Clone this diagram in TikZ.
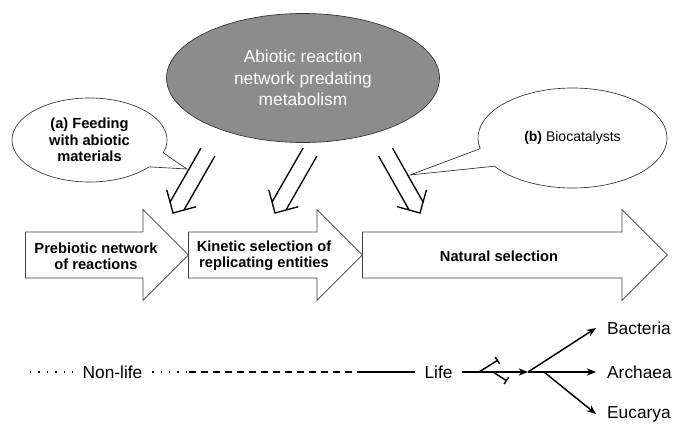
\documentclass[tikz,border=0pt]{standalone}
\usepackage{fontspec}
\setmainfont{Liberation Sans}
\usetikzlibrary{shapes.arrows,shapes.callouts,shapes.geometric,calc,arrows.meta}

\definecolor{abioticgray}{RGB}{140,140,140}

\tikzset{every picture/.style={line width=0.75pt}}
\tikzset{
  stage/.style={single arrow, draw=black!75, line width=0.6pt, single arrow head extend=16.9pt,
    single arrow tip angle=90, inner xsep=0pt, inner ysep=16.9pt, anchor=tail},
  stagetext/.style={font=\fontsize{11}{12.3}\selectfont\bfseries, align=center, inner sep=0.75pt},
  bubble/.style={ellipse callout, draw=black!80, line width=0.5pt, fill=white, align=center,
    inner sep=0pt, callout pointer arc=22},
  feed/.style={draw=black, line width=1pt},
  era/.style={font=\fontsize{13}{15}\selectfont, inner xsep=7pt, inner ysep=1pt},
  leaf/.style={font=\fontsize{13}{15}\selectfont, inner xsep=8pt, inner ysep=1pt, anchor=west},
  lifeline/.style={line width=1.1pt},
  branch/.style={line width=1.1pt, -{Stealth[length=7pt,width=5.5pt]}},
  stub/.style={line width=1.1pt, -{Bar[width=6pt]}}
}

% double-lined open arrow from #1 (tail middle) to #2 (tip)
\newcommand{\feedarrow}[2]{%
  \draw[feed] ($(#1)!6pt!90:(#2)$) -- ($(#2)!8.5pt!-45:(#1)$)
              ($(#1)!6pt!-90:(#2)$) -- ($(#2)!8.5pt!45:(#1)$)
              ($(#2)!18pt!45:(#1)$) -- (#2) -- ($(#2)!18pt!-45:(#1)$);}

\begin{document}
\begin{tikzpicture}[x=0.75pt,y=0.75pt,yscale=-1,xscale=1]
  \useasboundingbox (0,0) rectangle (680,428);

  %Shape: Ellipse [abiotic network]
  \node[ellipse, draw=black!80, line width=0.5pt, fill=abioticgray, text=white, minimum width=204.75pt,
    minimum height=96.75pt, align=center, font=\fontsize{13}{16}\selectfont] (abiotic) at (303,78)
    {Abiotic reaction\\network predating\\metabolism};

  % tails and tips of the feeding arrows
  \coordinate (s1) at (208,152);   \coordinate (t1) at (173,213);
  \coordinate (s2) at (310,152);   \coordinate (t2) at (275,213);
  \coordinate (s3) at (385.5,152); \coordinate (t3) at (420,213);
  \coordinate (pa) at (187,169);
  \coordinate (pb) at (410,175);

  %Shape: Callouts
  \node[bubble, minimum width=116.25pt, minimum height=63pt, callout absolute pointer=(pa),
    font=\fontsize{11}{12.3}\selectfont\bfseries] (feeding) at (89.5,140)
    {(a) Feeding\\with abiotic\\materials};
  \node[bubble, minimum width=141.75pt, minimum height=75pt, callout absolute pointer=(pb),
    font=\fontsize{10.5}{12}\selectfont] (catalysts) at (572.5,138)
    {\textbf{(b)} Biocatalysts};

  \feedarrow{s1}{t1}
  \feedarrow{s2}{t2}
  \feedarrow{s3}{t3}

  %Shape: Stage arrows
  \node[stage, minimum height=122.25pt] (prebiotic) at (25,255) {};
  \node[stage, minimum height=130.5pt] (kinetic) at (188,255) {};
  \node[stage, minimum height=228.75pt] (natural) at (362,255) {};

  \node[stagetext] (prebioticlabel) at (96,256) {Prebiotic network\\of reactions};
  \node[stagetext] (kineticlabel) at (264,256) {Kinetic selection of\\replicating entities};
  \node[stagetext] (naturallabel) at (499,256) {Natural selection};

  % timeline
  \coordinate (start) at (30,372);
  \node[era] (nonlife) at (112.5,372) {Non-life};
  \coordinate (d1) at (189,372);
  \coordinate (d2) at (361,372);
  \node[era] (life) at (438.5,372) {Life};
  \coordinate (fork) at (528,372);
  \coordinate (split) at (544,372);
  \coordinate (b1) at (479,372);
  \coordinate (b2) at (493,372);
  \node[leaf] (bacteria) at (596,328) {Bacteria};
  \node[leaf] (archaea) at (596,372) {Archaea};
  \node[leaf] (eucarya) at (596,414) {Eucarya};

  \draw[line width=1pt, dash pattern=on 1pt off 5.3pt] (start) -- (nonlife.west);
  \draw[line width=1pt, dash pattern=on 1pt off 5.3pt] (nonlife.east) -- (d1);
  \draw[lifeline, dash pattern=on 5.25pt off 3.75pt] (d1) -- (d2);
  \draw[lifeline] (d2) -- (life.west);
  \draw[branch] (life.east) -- (fork);
  \draw[stub] (b1) -- (498,360);
  \draw[stub] (b2) -- (507,381);
  \draw[branch] (fork) -- (bacteria.west);
  \draw[branch] (fork) -- (archaea.west);
  \draw[branch] (split) -- (eucarya.west);
\end{tikzpicture}
\end{document}
